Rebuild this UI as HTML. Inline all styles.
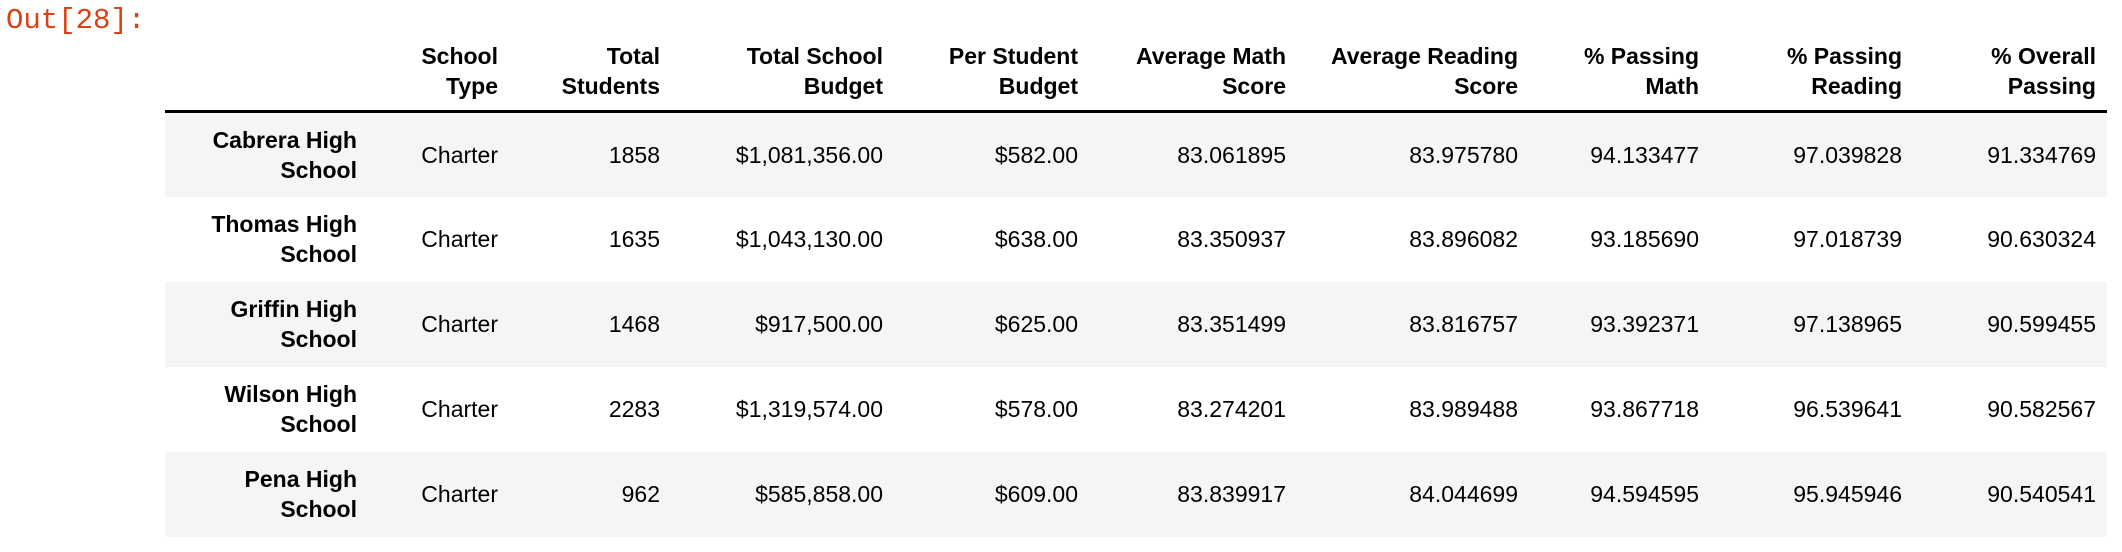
<!DOCTYPE html>
<html><head><meta charset="utf-8"><style>
body{margin:0;width:2122px;height:552px;background:#fff;overflow:hidden;font-family:"Liberation Sans",Arial,sans-serif;position:relative}
#out{position:absolute;left:6px;top:4px;font-family:"Liberation Mono",monospace;font-size:29px;color:#d84315}
table{position:absolute;left:165px;top:36px;border-collapse:collapse;table-layout:fixed;font-size:23px;color:#000}
th,td{text-align:right;padding:0 11px 0 0;line-height:30px}
thead th{vertical-align:bottom;padding-bottom:9px;border-bottom:3px solid #000;font-weight:bold;height:65px}
tbody tr{height:85px}
tbody tr:nth-child(odd){background:#f5f5f5}
tbody th{font-weight:bold}
</style></head><body>
<div id="out">Out[28]:</div>
<table>
<colgroup><col style="width:203px"><col style="width:141px"><col style="width:162px"><col style="width:223px"><col style="width:195px"><col style="width:208px"><col style="width:232px"><col style="width:181px"><col style="width:203px"><col style="width:194px"></colgroup>
<thead><tr><th></th><th>School<br>Type</th><th>Total<br>Students</th><th>Total School<br>Budget</th><th>Per Student<br>Budget</th><th>Average Math<br>Score</th><th>Average Reading<br>Score</th><th>% Passing<br>Math</th><th>% Passing<br>Reading</th><th>% Overall<br>Passing</th></tr></thead>
<tbody>
<tr><th>Cabrera High<br>School</th><td>Charter</td><td>1858</td><td>$1,081,356.00</td><td>$582.00</td><td>83.061895</td><td>83.975780</td><td>94.133477</td><td>97.039828</td><td>91.334769</td></tr>
<tr><th>Thomas High<br>School</th><td>Charter</td><td>1635</td><td>$1,043,130.00</td><td>$638.00</td><td>83.350937</td><td>83.896082</td><td>93.185690</td><td>97.018739</td><td>90.630324</td></tr>
<tr><th>Griffin High<br>School</th><td>Charter</td><td>1468</td><td>$917,500.00</td><td>$625.00</td><td>83.351499</td><td>83.816757</td><td>93.392371</td><td>97.138965</td><td>90.599455</td></tr>
<tr><th>Wilson High<br>School</th><td>Charter</td><td>2283</td><td>$1,319,574.00</td><td>$578.00</td><td>83.274201</td><td>83.989488</td><td>93.867718</td><td>96.539641</td><td>90.582567</td></tr>
<tr><th>Pena High<br>School</th><td>Charter</td><td>962</td><td>$585,858.00</td><td>$609.00</td><td>83.839917</td><td>84.044699</td><td>94.594595</td><td>95.945946</td><td>90.540541</td></tr>
</tbody></table>
</body></html>
